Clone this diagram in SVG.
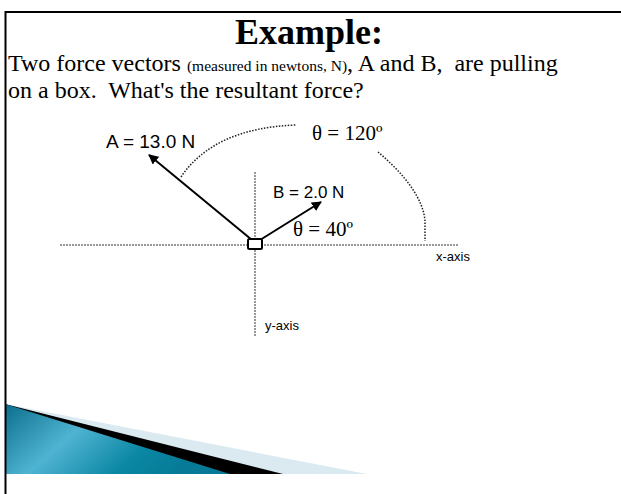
<svg xmlns="http://www.w3.org/2000/svg" width="621" height="494" viewBox="0 0 621 494">
<style>
.serif{font-family:"Liberation Serif","Times New Roman",serif;fill:#000;white-space:pre}
.sans{font-family:"Liberation Sans",Arial,sans-serif;fill:#000}
.axis{stroke:#777;stroke-width:1.5;stroke-dasharray:2,1;fill:none}
.arc{stroke:#222;stroke-width:1.5;stroke-dasharray:1.5,1.5;fill:none}
.vec{stroke:#000;stroke-width:2;fill:none;marker-end:url(#ah)}
</style>
<defs>
<marker id="ah" viewBox="0 0 10 10" refX="9" refY="5" markerWidth="5" markerHeight="5" orient="auto" markerUnits="strokeWidth">
<path d="M0,0 L10,5 L0,10 z" fill="#000"/>
</marker>
<linearGradient id="teal" x1="0" y1="0" x2="1" y2="0.35">
<stop offset="0" stop-color="#0b6e8c"/>
<stop offset="0.4" stop-color="#4fb3d2"/>
<stop offset="0.75" stop-color="#0a87a3"/>
<stop offset="1" stop-color="#067a96"/>
</linearGradient>
</defs>
<rect width="621" height="494" fill="#fff"/>
<g id="decor">
<polygon points="5,404 367,474 5,474" fill="#dbeaf1"/>
<polygon points="5,404 283,474 5,474" fill="#000"/>
<polygon points="5,404 230,474 5,474" fill="url(#teal)"/>
</g>
<g id="frame">
<line x1="5" y1="12" x2="621" y2="12" stroke="#000" stroke-width="2"/>
<line x1="5.5" y1="11" x2="5.5" y2="494" stroke="#000" stroke-width="2"/>
</g>
<g id="text">
<text x="309" y="44" class="serif" font-size="36" font-weight="bold" text-anchor="middle">Example:</text>
<text x="8" y="71" class="serif" font-size="24" xml:space="preserve">Two force vectors <tspan font-size="15.5">(measured in newtons, N)</tspan>, A and B,  are pulling</text>
<text x="8" y="98" class="serif" font-size="24" xml:space="preserve">on a box.  What's the resultant force?</text>
</g>
<g id="connectors">
<line id="x-axis-line" class="axis" x1="60" y1="245" x2="458" y2="245"/>
<line id="y-axis-line" class="axis" x1="255" y1="172" x2="255" y2="337"/>
<path class="arc" d="M181,177 Q214,128 296,125"/>
<path class="arc" d="M378,152 C402,172 424,198 425,222 L425,241"/>
<line id="vecA" class="vec" x1="252" y1="240" x2="149" y2="155"/>
<line id="vecB" class="vec" x1="260" y1="240" x2="321" y2="202"/>
</g>
<g id="box">
<rect x="248" y="239" width="14" height="10" fill="#fff" stroke="#000" stroke-width="2" rx="1.5"/>
</g>
<g id="labels">
<text x="106" y="148" class="sans" font-size="19">A = 13.0 N</text>
<text x="273" y="198" class="sans" font-size="17">B = 2.0 N</text>
<text x="312" y="140" class="serif" font-size="21">θ = 120º</text>
<text x="293" y="236" class="serif" font-size="21">θ = 40º</text>
<text x="436" y="261" class="sans" font-size="13">x-axis</text>
<text x="265" y="330" class="sans" font-size="13">y-axis</text>
</g>
</svg>
